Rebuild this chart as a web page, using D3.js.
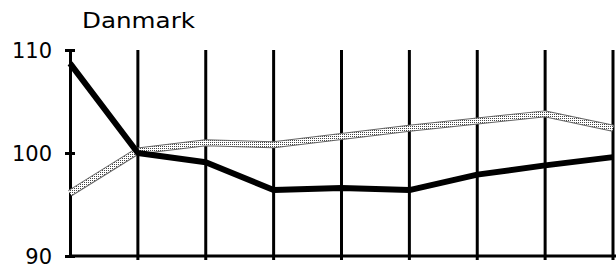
<!DOCTYPE html>
<html>
<head>
<meta charset="utf-8">
<script src="https://cdn.jsdelivr.net/npm/d3@7/dist/d3.min.js"></script>
<style>
  html, body { margin: 0; padding: 0; background: #fff; }
  svg { display: block; }
</style>
</head>
<body>
<svg id="chart" width="616" height="272"></svg>
<script>
// periods along the x axis (no labels shown in the original)
var periods = [0, 1, 2, 3, 4, 5, 6, 7, 8];
var blackSeries = [108.7, 100.0, 99.1, 96.4, 96.6, 96.4, 97.9, 98.8, 99.6];
var greySeries = [96.1, 100.2, 101.0, 100.8, 101.6, 102.4, 103.1, 103.8, 102.4];
var yTicks = [90, 100, 110];
var title = "Danmark";

var svg = d3.select("#chart");
var fontFam = "'DejaVu Sans', sans-serif";

var x = d3.scalePoint().domain(periods).range([70, 613]);
var y = d3.scaleLinear().domain([90, 110]).range([256, 50]);

// dotted pattern for the grey line
var defs = svg.append("defs");
var pat = defs.append("pattern").attr("id", "checker")
    .attr("patternUnits", "userSpaceOnUse").attr("width", 2).attr("height", 2);
pat.append("rect").attr("width", 2).attr("height", 2).attr("fill", "#fff");
pat.append("rect").attr("width", 1).attr("height", 1).attr("fill", "#444");

// vertical grid lines
svg.append("g").selectAll("line").data(periods.slice(1)).join("line")
    .attr("x1", function (d) { return x(d); }).attr("x2", function (d) { return x(d); })
    .attr("y1", y(110)).attr("y2", y(90) + 4)
    .attr("stroke", "#000").attr("stroke-width", 3);

// y axis
var yAxis = svg.append("g").attr("transform", "translate(" + x(0) + ",0)")
    .call(d3.axisLeft(y).tickValues(yTicks).tickSizeInner(5).tickSizeOuter(0).tickPadding(13));
yAxis.select(".domain").attr("stroke-width", 3);
yAxis.selectAll(".tick line").attr("x2", 5).attr("x1", -5).attr("stroke-width", 3);
yAxis.selectAll(".tick text").attr("font-family", fontFam).attr("font-size", 21)
    .attr("dy", "0.36em").attr("fill", "#000");

// x axis baseline
svg.append("line").attr("x1", x(0)).attr("x2", 616).attr("y1", y(90)).attr("y2", y(90))
    .attr("stroke", "#000").attr("stroke-width", 3);

var line = d3.line().x(function (d, i) { return x(periods[i]); }).y(function (d) { return y(d); });

svg.append("path").datum(greySeries).attr("d", line)
    .attr("fill", "none").attr("stroke", "#666").attr("stroke-width", 7).attr("stroke-linejoin", "round");
svg.append("path").datum(greySeries).attr("d", line)
    .attr("fill", "none").attr("stroke", "url(#checker)").attr("stroke-width", 5).attr("stroke-linejoin", "round");

svg.append("path").datum(blackSeries).attr("d", line)
    .attr("fill", "none").attr("stroke", "#000").attr("stroke-width", 6).attr("stroke-linejoin", "round");

svg.append("text").attr("x", 82).attr("y", 28).text(title)
    .attr("font-family", fontFam).attr("font-size", 21)
    .attr("textLength", 113).attr("lengthAdjust", "spacingAndGlyphs").attr("fill", "#000");
</script>
</body>
</html>
